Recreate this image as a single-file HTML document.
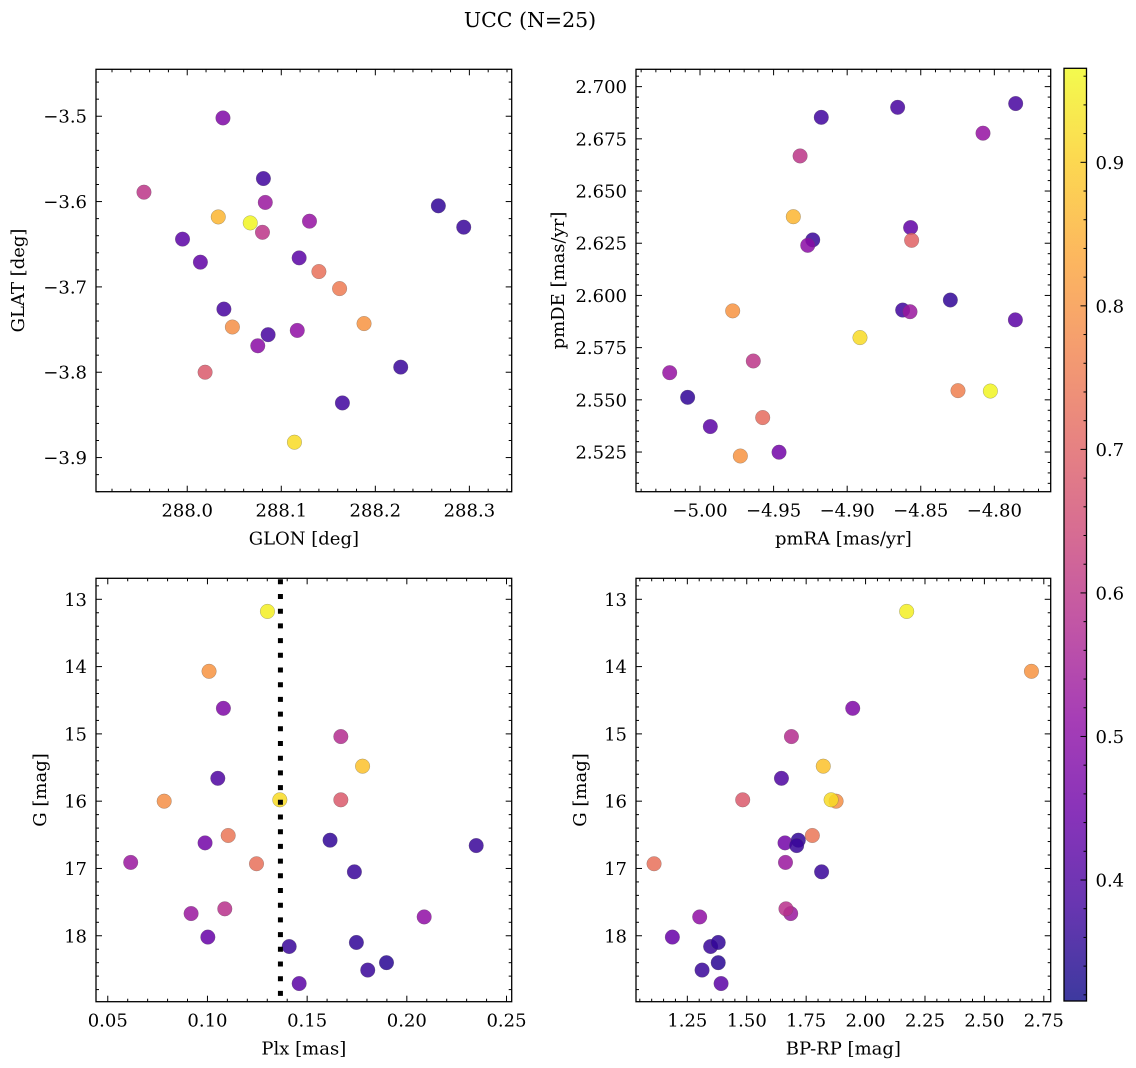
<!DOCTYPE html>
<html><head><meta charset="utf-8">
<style>
html,body{margin:0;padding:0;background:#fff;}
svg{display:block;font-family:"DejaVu Serif","Liberation Serif",serif;}
</style></head>
<body>
<svg id="fig" width="1136" height="1068" viewBox="0 0 1136 1068" xmlns="http://www.w3.org/2000/svg">
<rect width="1136" height="1068" fill="#fff"/>
<text x="530" y="27" font-size="20.5" text-anchor="middle">UCC (N=25)</text>
</svg>
<script>
// ---- data: top-left (GLON vs GLAT)
const tlGlon=[288.038,287.954,288.081,288.083,288.033,288.067,288.080,288.130,287.995,288.014,288.119,288.140,288.162,288.039,288.048,288.086,288.117,288.075,288.188,288.019,288.227,288.165,288.114,288.267,288.294];
const tlGlat=[-3.502,-3.589,-3.573,-3.601,-3.618,-3.625,-3.636,-3.623,-3.644,-3.671,-3.666,-3.682,-3.702,-3.726,-3.747,-3.756,-3.751,-3.769,-3.743,-3.800,-3.794,-3.836,-3.882,-3.605,-3.630];
const tlProb=[0.48,0.6,0.38,0.53,0.86,0.96,0.6,0.52,0.42,0.43,0.42,0.73,0.75,0.39,0.79,0.39,0.51,0.5,0.8,0.68,0.37,0.38,0.92,0.36,0.37];
// ---- data: top-right (pmRA vs pmDE)
const trPmra=[-4.9176,-4.8657,-4.7855,-4.8077,-4.9320,-4.9366,-4.8569,-4.8562,-4.9234,-4.9268,-4.9778,-4.8623,-4.8573,-4.8299,-4.7857,-4.8913,-4.9638,-5.0206,-5.0084,-4.9930,-4.9574,-4.8247,-4.8027,-4.9463,-4.9726];
const trPmde=[2.6853,2.6901,2.6919,2.6777,2.6668,2.6377,2.6325,2.6264,2.6266,2.6240,2.5926,2.5930,2.5922,2.5978,2.5883,2.5798,2.5686,2.5630,2.5512,2.5372,2.5415,2.5544,2.5542,2.5249,2.5231];
const trProb=[0.38,0.39,0.39,0.52,0.6,0.86,0.43,0.7,0.37,0.5,0.8,0.38,0.53,0.36,0.42,0.92,0.6,0.52,0.36,0.42,0.72,0.76,0.96,0.46,0.8];
// ---- data: bottom panels (shared G and probability)
const gMag=[13.18,14.07,14.62,15.04,15.48,15.66,16.00,15.98,15.98,16.51,16.62,16.58,16.66,16.91,16.93,17.05,17.67,17.60,17.72,18.02,18.16,18.10,18.40,18.51,18.71];
const plx=[0.1301,0.1008,0.108,0.1669,0.1778,0.1052,0.0783,0.1363,0.1669,0.1104,0.0988,0.1615,0.2348,0.0615,0.1246,0.1737,0.0918,0.1087,0.2087,0.1002,0.141,0.1747,0.1898,0.1804,0.146];
const bprp=[2.173,2.698,1.946,1.688,1.822,1.646,1.876,1.855,1.483,1.776,1.661,1.717,1.710,1.663,1.110,1.815,1.685,1.665,1.302,1.187,1.348,1.380,1.380,1.312,1.392];
const botProb=[0.95,0.8,0.48,0.58,0.88,0.4,0.79,0.92,0.68,0.74,0.46,0.36,0.37,0.53,0.73,0.37,0.53,0.59,0.51,0.44,0.37,0.36,0.35,0.37,0.42];
const plxLine=[0.1366];
const cbTicks=[0.4,0.5,0.6,0.7,0.8,0.9];
const cbMin=0.3157, cbMax=0.9655;

const NS="http://www.w3.org/2000/svg";
const svg=document.getElementById('fig');
function mk(tag,attrs,parent){const e=document.createElementNS(NS,tag);for(const k in attrs)e.setAttribute(k,attrs[k]);(parent||svg).appendChild(e);return e;}

const plasma=[[13,8,135],[65,4,157],[106,0,168],[143,13,164],[177,42,144],[204,71,120],[225,100,98],[242,132,75],[252,166,54],[252,206,37],[240,249,33]];
function cmap(v){let t=(v-cbMin)/(cbMax-cbMin);t=Math.max(0,Math.min(1,t))*10;const i=Math.min(9,Math.floor(t)),f=t-i;const a=plasma[i],b=plasma[i+1];return 'rgb('+a.map((c,k)=>Math.round(c+(b[k]-c)*f)).join(',')+')';}
function fmt(v,d){let s=Math.abs(v).toFixed(d);return (v<-1e-9?'\u2212':'')+s;}
const FS=18;

function panel(p){
  const g=mk('g',{});
  
  
  const sx=v=>p.L+(v-p.x0)/(p.x1-p.x0)*(p.R-p.L);
  const sy=v=>p.T+(v-p.y0)/(p.y1-p.y0)*(p.B-p.T);
  const tg=mk('g',{stroke:'#000','stroke-width':1},g);
  const xlo=Math.min(p.x0,p.x1),xhi=Math.max(p.x0,p.x1),ylo=Math.min(p.y0,p.y1),yhi=Math.max(p.y0,p.y1);
  for(let k=Math.ceil(xlo/p.xmin-1e-6);k*p.xmin<=xhi+1e-9;k++){const v=k*p.xmin;const X=sx(v);const maj=Math.abs(v/p.xmaj-Math.round(v/p.xmaj))<1e-4;const l=maj?6:3;
    mk('line',{x1:X,x2:X,y1:p.B,y2:p.B-l},tg);mk('line',{x1:X,x2:X,y1:p.T,y2:p.T+l},tg);
    if(maj){const t=mk('text',{x:X,y:p.B+25,'font-size':FS,'text-anchor':'middle',stroke:'none'},g);t.textContent=fmt(v,p.xd);}}
  for(let k=Math.ceil(ylo/p.ymin-1e-6);k*p.ymin<=yhi+1e-9;k++){const v=k*p.ymin;const Y=sy(v);const maj=Math.abs(v/p.ymaj-Math.round(v/p.ymaj))<1e-4;const l=maj?6:3;
    mk('line',{x1:p.L,x2:p.L+l,y1:Y,y2:Y},tg);mk('line',{x1:p.R,x2:p.R-l,y1:Y,y2:Y},tg);
    if(maj){const t=mk('text',{x:p.L-9,y:Y+6.5,'font-size':FS,'text-anchor':'end'},g);t.textContent=fmt(v,p.yd);}}
  for(let i=0;i<p.xs.length;i++){
    const c=mk('circle',{cx:sx(p.xs[i]),cy:sy(p.ys[i]),r:7.3,fill:cmap(p.cs[i]),'fill-opacity':0.85,stroke:'#555','stroke-opacity':0.5,'stroke-width':0.5},g);
    
    
  }
  if(p.vline){for(const v of p.vline){const l=mk('line',{x1:sx(v),x2:sx(v),y1:p.T+1,y2:p.B,stroke:'#000','stroke-width':5,'stroke-dasharray':'5 9.7'},g);
    
    }}
  mk('rect',{x:p.L,y:p.T,width:p.R-p.L,height:p.B-p.T,fill:'none',stroke:'#000','stroke-width':1.3},g);
  const xl=mk('text',{x:(p.L+p.R)/2,y:p.B+53,'font-size':FS,'text-anchor':'middle'},g);xl.textContent=p.xlabel;
  
  const yx=p.L-p.ylabOff, yy=(p.T+p.B)/2;
  const yl=mk('text',{x:yx,y:yy,'font-size':FS,'text-anchor':'middle',transform:'rotate(-90 '+yx+' '+yy+')'},g);yl.textContent=p.ylabel;
  
}

panel({name:'glon-glat-panel',L:96,R:511.7,T:69.3,B:491.7,x0:287.903,x1:288.345,y0:-3.445,y1:-3.940,xmaj:0.1,xmin:0.02,ymaj:0.1,ymin:0.02,xd:1,yd:1,xs:tlGlon,ys:tlGlat,cs:tlProb,xlabel:'GLON [deg]',ylabel:'GLAT [deg]',ylabOff:72});
panel({name:'pm-panel',L:636,R:1050.7,T:69.3,B:491.7,x0:-5.0435,x1:-4.7617,y0:2.7083,y1:2.506,xmaj:0.05,xmin:0.01,ymaj:0.025,ymin:0.005,xd:2,yd:3,xs:trPmra,ys:trPmde,cs:trProb,xlabel:'pmRA [mas/yr]',ylabel:'pmDE [mas/yr]',ylabOff:72});
panel({name:'plx-g-panel',L:96,R:511.7,T:578.3,B:1001.7,x0:0.0441,x1:0.2526,y0:12.688,y1:18.98,xmaj:0.05,xmin:0.01,ymaj:1,ymin:0.2,xd:2,yd:0,xs:plx,ys:gMag,cs:botProb,vline:plxLine,xlabel:'Plx [mas]',ylabel:'G [mag]',ylabOff:50});
panel({name:'cmd-panel',L:636,R:1050.7,T:578.3,B:1001.7,x0:1.034,x1:2.779,y0:12.688,y1:18.98,xmaj:0.25,xmin:0.05,ymaj:1,ymin:0.2,xd:2,yd:0,xs:bprp,ys:gMag,cs:botProb,xlabel:'BP-RP [mag]',ylabel:'G [mag]',ylabOff:50});

(function(){
  const L=1064,R=1086.5,T=68.3,B=1001;
  const g=mk('g',{});
  
  
  const defs=mk('defs',{},g);
  const lg=mk('linearGradient',{id:'pl',x1:0,y1:1,x2:0,y2:0},defs);
  for(let i=0;i<=10;i++){mk('stop',{offset:i/10,'stop-color':'rgb('+plasma[i].join(',')+')'},lg);}
  mk('rect',{x:L,y:T,width:R-L,height:B-T,fill:'url(#pl)','fill-opacity':0.8},g);
  const sy=v=>B-(v-cbMin)/(cbMax-cbMin)*(B-T);
  for(let k=Math.ceil(cbMin/0.02);k*0.02<=cbMax;k++){const v=k*0.02;const Y=sy(v);const maj=Math.abs(v*10-Math.round(v*10))<1e-4;
    mk('line',{x1:R,x2:R-(maj?6:3),y1:Y,y2:Y,stroke:'#000','stroke-width':1},g);}
  for(const v of cbTicks){const t=mk('text',{x:R+9,y:sy(v)+6.5,'font-size':FS},g);t.textContent=v.toFixed(1);
    }
  mk('rect',{x:L,y:T,width:R-L,height:B-T,fill:'none',stroke:'#000','stroke-width':1.3},g);
})();
</script>
</body></html>
